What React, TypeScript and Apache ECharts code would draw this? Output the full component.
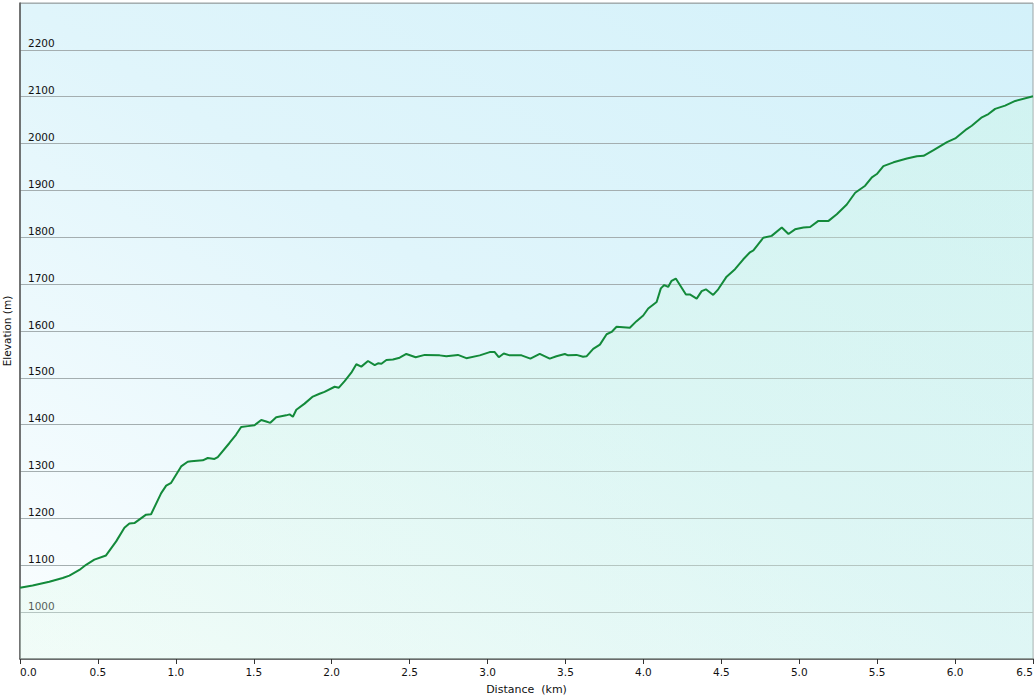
import React, { useEffect, useRef } from "react";
import * as echarts from "echarts";

const distanceKm: number[] = [
  0.0, 0.081, 0.188, 0.274, 0.317, 0.381, 0.424, 0.477, 0.552, 0.617, 0.67, 0.702, 0.734, 0.809, 0.841,
  0.906, 0.938, 0.97, 1.034, 1.076, 1.098, 1.173, 1.205, 1.248, 1.269, 1.344, 1.387, 1.419, 1.462, 1.505,
  1.548, 1.58, 1.606, 1.644, 1.708, 1.73, 1.751, 1.773, 1.826, 1.879, 1.922, 1.954, 2.019, 2.046, 2.083,
  2.126, 2.158, 2.19, 2.233, 2.276, 2.297, 2.319, 2.351, 2.393, 2.436, 2.479, 2.539, 2.597, 2.693, 2.736,
  2.81, 2.864, 2.95, 3.014, 3.046, 3.072, 3.104, 3.142, 3.218, 3.275, 3.335, 3.399, 3.442, 3.496, 3.517,
  3.571, 3.613, 3.635, 3.678, 3.721, 3.764, 3.796, 3.828, 3.913, 3.956, 3.999, 4.031, 4.085, 4.112, 4.134,
  4.159, 4.181, 4.208, 4.273, 4.298, 4.342, 4.374, 4.401, 4.448, 4.48, 4.534, 4.588, 4.641, 4.684, 4.706,
  4.769, 4.823, 4.888, 4.931, 4.973, 5.027, 5.07, 5.123, 5.188, 5.241, 5.305, 5.359, 5.423, 5.466, 5.498,
  5.54, 5.605, 5.691, 5.755, 5.798, 5.862, 5.948, 6.001, 6.075, 6.107, 6.172, 6.214, 6.257, 6.321, 6.386,
  6.5,
];

const elevationM: number[] = [
  1052, 1057, 1065, 1073, 1078, 1090, 1101, 1112, 1121, 1151, 1180, 1189, 1190, 1208, 1209,
  1254, 1270, 1276, 1311, 1321, 1322, 1324, 1329, 1327, 1331, 1361, 1379, 1395, 1397, 1399,
  1410, 1407, 1404, 1416, 1420, 1422, 1417, 1432, 1445, 1460, 1466, 1470, 1481, 1479, 1493,
  1511, 1529, 1524, 1536, 1527, 1531, 1530, 1538, 1539, 1543, 1551, 1544, 1549, 1548, 1546,
  1549, 1542, 1548, 1555, 1555, 1544, 1552, 1548, 1548, 1541, 1551, 1541, 1546, 1551, 1548,
  1549, 1545, 1546, 1562, 1571, 1593, 1598, 1609, 1607, 1621, 1633, 1648, 1662, 1691, 1698,
  1694, 1707, 1712, 1678, 1678, 1669, 1685, 1689, 1677, 1689, 1716, 1732, 1753, 1768, 1772,
  1799, 1803, 1821, 1807, 1817, 1821, 1822, 1835, 1835, 1849, 1870, 1895, 1910, 1928, 1935,
  1952, 1960, 1968, 1973, 1974, 1986, 2003, 2011, 2031, 2038, 2056, 2063, 2074, 2081, 2091,
  2101,
];

const xAxisTitle = "Distance  (km)";
const yAxisTitle = "Elevation (m)";

const FONT = "'DejaVu Sans', Verdana, sans-serif";

export default function App() {
  const ref = useRef<HTMLDivElement | null>(null);

  useEffect(() => {
    if (!ref.current) return;
    const chart = echarts.init(ref.current, undefined, { renderer: "svg" });
    const points = distanceKm.map((d, i) => [d, elevationM[i]]);
    chart.setOption({
      animation: false,
      backgroundColor: "#ffffff",
      grid: {
        left: 20,
        right: 3,
        top: 3,
        bottom: 41,
        outerBoundsMode: "none",
        containLabel: false,
        show: true,
        borderColor: "#9aa4a6",
        borderWidth: 1,
        backgroundColor: new echarts.graphic.LinearGradient(1, 0, 0, 1, [
          { offset: 0, color: "#d3f1fa" },
          { offset: 0.5, color: "#e0f5fb" },
          { offset: 1, color: "#fbfeff" },
        ]),
      },
      xAxis: {
        type: "value",
        min: 0,
        max: 6.5,
        interval: 0.5,
        name: xAxisTitle,
        nameLocation: "middle",
        nameGap: 25,
        nameTextStyle: { fontFamily: FONT, fontSize: 11, color: "#111" },
        axisLine: { show: true, onZero: false, lineStyle: { color: "#555", width: 1.5 } },
        axisTick: { show: true, length: 5, lineStyle: { color: "#333", width: 1 } },
        axisLabel: {
          fontFamily: FONT,
          fontSize: 10.5,
          color: "#111",
          margin: 7,
          alignMinLabel: "left",
          alignMaxLabel: "right",
          formatter: (v: number) => v.toFixed(1),
        },
        splitLine: { show: false },
      },
      yAxis: {
        type: "value",
        min: 900,
        max: 2300,
        interval: 100,
        name: yAxisTitle,
        nameLocation: "middle",
        nameGap: 3,
        nameTextStyle: { fontFamily: FONT, fontSize: 10.5, color: "#111" },
        axisLine: { show: true, onZero: false, lineStyle: { color: "#555", width: 1.5 } },
        axisTick: { show: false },
        axisLabel: {
          inside: true,
          margin: 8,
          fontFamily: FONT,
          fontSize: 10.5,
          color: "#111",
          verticalAlign: "bottom",
          padding: [0, 0, 1, 0],
          showMinLabel: false,
          showMaxLabel: false,
          formatter: (v: number) => String(Math.round(v)),
        },
        splitLine: { show: true, lineStyle: { color: "#a4aeb0", width: 1 } },
      },
      series: [
        {
          type: "line",
          data: points,
          showSymbol: false,
          smooth: false,
          lineStyle: { color: "#138a3a", width: 2 },
          areaStyle: {
            color: new echarts.graphic.LinearGradient(0, 0, 0, 1, [
              { offset: 0, color: "rgba(200,246,222,0.45)" },
              { offset: 1, color: "rgba(220,249,232,0.45)" },
            ]),
            origin: "start",
          },
        },
      ],
    });
    return () => chart.dispose();
  }, []);

  return (
    <div
      ref={ref}
      style={{ position: "absolute", left: 0, top: 0, width: 1036, height: 700 }}
    />
  );
}
